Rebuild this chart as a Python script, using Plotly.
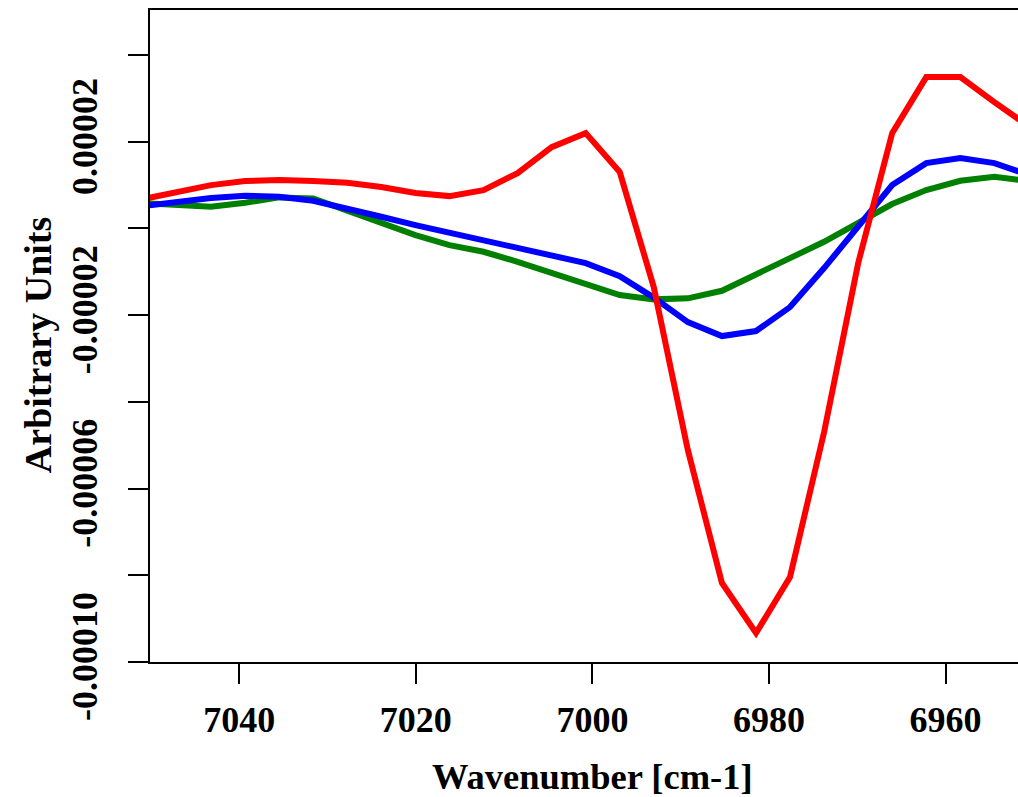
import plotly.graph_objects as go

# Wavenumber grid (cm-1)
wavenumber = [7050.90, 7047.04, 7043.19, 7039.33, 7035.47, 7031.62, 7027.76,
              7023.90, 7020.04, 7016.19, 7012.33, 7008.47, 7004.62, 7000.76,
              6996.90, 6993.05, 6989.19, 6985.33, 6981.47, 6977.62, 6973.76,
              6969.90, 6966.05, 6962.19, 6958.33, 6954.48, 6950.62]

red_series = [6.78e-6, 8.40e-6, 10.01e-6, 10.93e-6, 11.16e-6, 10.93e-6, 10.54e-6,
              9.55e-6, 8.17e-6, 7.47e-6, 8.86e-6, 12.78e-6, 18.77e-6, 22.00e-6,
              13.01e-6, -13.52e-6, -51.11e-6, -81.79e-6, -93.32e-6, -80.40e-6,
              -46.96e-6, -7.98e-6, 22.00e-6, 34.92e-6, 34.92e-6, 29.15e-6, 23.62e-6]

blue_series = [5.17e-6, 6.16e-6, 7.01e-6, 7.54e-6, 7.31e-6, 6.39e-6, 4.71e-6,
               2.70e-6, 0.78e-6, -0.99e-6, -2.68e-6, -4.52e-6, -6.37e-6, -7.98e-6,
               -10.98e-6, -15.94e-6, -21.59e-6, -24.82e-6, -23.66e-6, -18.13e-6,
               -9.13e-6, 0.55e-6, 10.01e-6, 15.08e-6, 16.24e-6, 15.08e-6, 12.39e-6]

green_series = [5.86e-6, 5.40e-6, 5.01e-6, 5.93e-6, 7.17e-6, 6.94e-6, 4.24e-6,
                1.25e-6, -1.52e-6, -3.83e-6, -5.37e-6, -7.68e-6, -10.22e-6, -12.89e-6,
                -15.36e-6, -16.35e-6, -16.12e-6, -14.37e-6, -10.75e-6, -6.83e-6,
                -3.07e-6, 1.25e-6, 5.63e-6, 8.86e-6, 11.00e-6, 11.92e-6, 10.93e-6]

x_tick_vals = [7040, 7020, 7000, 6980, 6960]
x_tick_text = ["7040", "7020", "7000", "6980", "6960"]
y_tick_vals = [0.00004, 0.00002, 0.0, -0.00002, -0.00004, -0.00006, -0.00008, -0.00010]
y_tick_text = ["", "0.00002", "", "-0.00002", "", "-0.00006", "", "-0.00010"]

FONT = "Liberation Serif, Times New Roman, serif"

fig = go.Figure()
for ys, col in [(green_series, "#008000"), (blue_series, "#0000FF"), (red_series, "#FF0000")]:
    fig.add_trace(go.Scatter(x=wavenumber, y=ys, mode="lines",
                             line=dict(color=col, width=6), showlegend=False,
                             hoverinfo="skip"))

fig.update_layout(
    width=1018, height=797,
    margin=dict(l=150, r=0, t=10, b=135),
    paper_bgcolor="white", plot_bgcolor="white",
    font=dict(family=FONT, size=36, color="black", weight="bold"),
    xaxis=dict(range=[7050.1, 6951.8], tickvals=x_tick_vals, ticktext=x_tick_text,
               showline=True, linecolor="black", linewidth=2, mirror=True,
               ticks="outside", ticklen=20, tickwidth=2, tickcolor="black",
               ticklabelstandoff=5,
               showgrid=False, zeroline=False,
               tickfont=dict(family=FONT, size=36, color="black", weight="bold")),
    yaxis=dict(range=[-0.00010, 0.0000504], tickvals=y_tick_vals, ticktext=y_tick_text,
               showline=True, linecolor="black", linewidth=2, mirror=False,
               ticks="outside", ticklen=20, tickwidth=2, tickcolor="black",
               ticklabelstandoff=17,
               tickangle=-90, showgrid=False, zeroline=False,
               tickfont=dict(family=FONT, size=36, color="black", weight="bold")),
    annotations=[
        dict(text="Wavenumber [cm-1]", xref="paper", yref="paper", x=0.510, y=-0.176,
             xanchor="center", yanchor="middle", showarrow=False,
             font=dict(family=FONT, size=36.5, color="black", weight="bold")),
        dict(text="Arbitrary Units", xref="paper", yref="paper", x=-0.129, y=0.486,
             xanchor="center", yanchor="middle", showarrow=False, textangle=-90,
             font=dict(family=FONT, size=38, color="black", weight="bold")),
    ],
)

fig.write_html(
    "out.html",
    config={"displayModeBar": False},
    post_script="document.body.style.margin='0';document.body.style.overflow='hidden';",
)
